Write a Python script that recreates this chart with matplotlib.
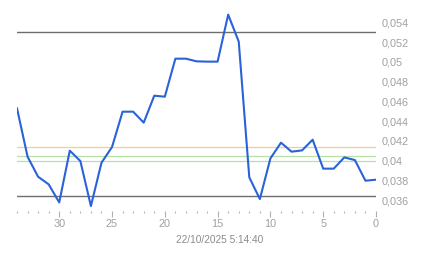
import matplotlib.pyplot as plt
from matplotlib.ticker import FuncFormatter, MultipleLocator

plt.rcParams['font.family'] = ['Liberation Sans', 'DejaVu Sans']

# valeurs (x = jours avant la date, 34 -> 0)
days = list(range(34, -1, -1))
values = [0.04529, 0.04039, 0.03836, 0.03759, 0.03576, 0.04100, 0.03995,
          0.03539, 0.03978, 0.04137, 0.04495, 0.04495, 0.04384, 0.04657,
          0.04647, 0.05032, 0.05032, 0.05005, 0.05002, 0.05002, 0.05478,
          0.05205, 0.03830, 0.03610, 0.04022, 0.04181, 0.04090, 0.04103,
          0.04211, 0.03918, 0.03918, 0.04032, 0.04005, 0.03796, 0.03806]

# lignes horizontales de référence
dark_levels = [0.0530, 0.03637]
yellow_levels = [0.04137]
green_levels = [0.04046, 0.03995]
date_label = '22/10/2025 5:14:40'

fig = plt.figure(figsize=(4.43, 2.58), dpi=100)
ax = fig.add_axes([17 / 443, 47 / 258, (376 - 17) / 443, (211 - 10) / 258])

for lv in dark_levels:
    ax.axhline(lv, color='#6e6e6e', lw=1.0, zorder=1)
for lv in yellow_levels:
    ax.axhline(lv, color='#f2d27a', lw=0.9, zorder=1)
for lv in green_levels:
    ax.axhline(lv, color='#b5e0a8', lw=0.9, zorder=1)

ax.plot(days, values, color='#2a62d8', lw=1.5, zorder=3)

ax.set_xlim(34, 0)
ax.set_ylim(0.03489, 0.05525)

ax.xaxis.set_major_locator(MultipleLocator(5))
ax.xaxis.set_minor_locator(MultipleLocator(1))
ax.yaxis.set_major_locator(MultipleLocator(0.002))
ax.yaxis.set_major_formatter(FuncFormatter(lambda v, p: f'{round(v, 3):g}'.replace('.', ',')))
ax.set_yticks([0.036 + 0.002 * i for i in range(10)])

ax.yaxis.tick_right()
ax.tick_params(axis='y', length=0, pad=4, labelsize=7.8, labelcolor='#a0a0a0')
ax.tick_params(axis='x', which='major', length=4, width=0.8, color='#b0b0b0',
               pad=2, labelsize=7.8, labelcolor='#a0a0a0')
ax.tick_params(axis='x', which='minor', length=1.5, width=0.8, color='#b0b0b0')

for s in ax.spines.values():
    s.set_visible(False)

fig.text(220 / 443, 1 - 240 / 258, date_label, ha='center', va='center',
         fontsize=7.3, color='#8c8c8c')

fig.savefig('out.png', dpi=100)
